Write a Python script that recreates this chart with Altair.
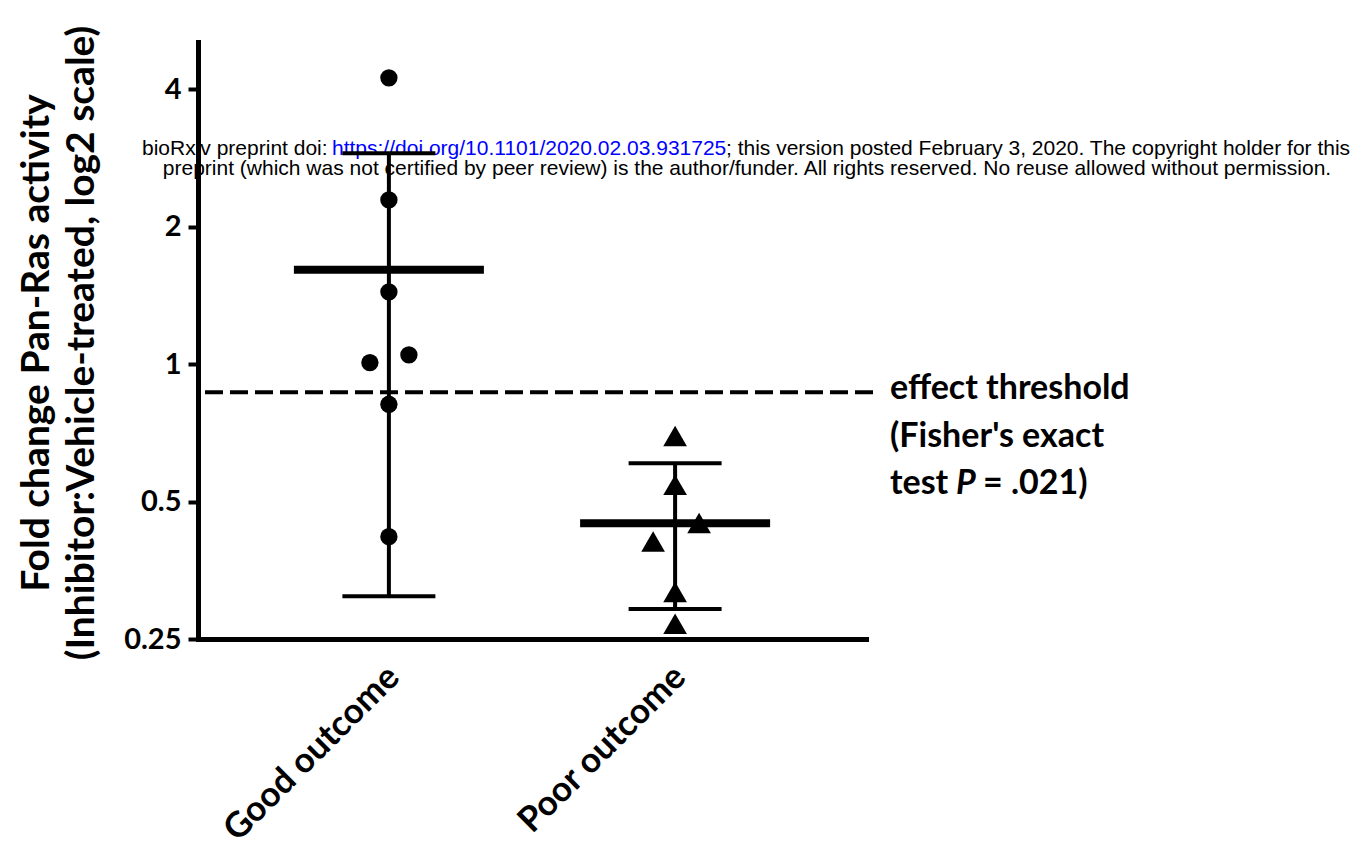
import altair as alt
import pandas as pd

# ---------------- data ----------------
groups = ["Good outcome", "Poor outcome"]
good_values = [4.24, 2.29, 1.44, 1.048, 1.008, 0.817, 0.419]
good_lanes = [0, 0, 0, 1, -1, 0, 0]          # jitter lane of each dot
poor_values = [0.696, 0.544, 0.449, 0.409, 0.317, 0.270]
poor_lanes = [0, 0, 1, -1, 0, 0]
group_means = [1.61, 0.448]
err_upper = [2.90, 0.607]
err_lower = [0.31, 0.291]
threshold = [0.868]
y_ticks = [0.25, 0.5, 1, 2, 4]
y_title = ["Fold change Pan-Ras activity", "(Inhibitor:Vehicle-treated, log2 scale)"]
note_lines = ["effect threshold", "(Fisher's exact", "test", "P", "= .021)"]
wm_left = "bioRxiv preprint doi:"
wm_link = "https://doi.org/10.1101/2020.02.03.931725"
wm_right = "; this version posted February 3, 2020. The copyright holder for this"
wm_line2 = "preprint (which was not certified by peer review) is the author/funder. All rights reserved. No reuse allowed without permission."

points = pd.DataFrame({
    "group": [groups[0]] * len(good_values) + [groups[1]] * len(poor_values),
    "value": good_values + poor_values,
    "lane": good_lanes + poor_lanes,
})
summary = pd.DataFrame({"group": groups, "mean": group_means,
                        "hi": err_upper, "lo": err_lower})
thr_df = pd.DataFrame({"thr": threshold})

# ---------------- style ----------------
W, H = 668, 597
FONT = "Lato"
WM_FONT = "Liberation Sans"

x_axis = alt.Axis(
    title=None, labelAngle=315, labelFont=FONT, labelFontWeight="bold",
    labelFontSize=35, labelColor="black", labelPadding=20, labelOffset=-8,
    ticks=False, tickSize=0, domainWidth=5, domainColor="black",
    domainCap="square", grid=False, labelLimit=600,
)
y_axis = alt.Axis(
    values=y_ticks, labelExpr="'' + datum.value", title=y_title, grid=False,
    domainWidth=5, domainColor="black", domainCap="square",
    tickWidth=4, tickSize=10, tickColor="black",
    labelFont=FONT, labelFontWeight="bold", labelFontSize=29,
    labelColor="black", labelPadding=7, labelOverlap=False,
    titleFont=FONT, titleFontSize=39, titleFontWeight="bold",
    titleColor="black", titleLineHeight=45, titleAngle=270,
    titleBaseline="middle", titleX=-162, titleY=H / 2 + 2, titleLimit=900,
)

x_enc = alt.X("group:N", scale=alt.Scale(type="point", domain=groups, padding=0.667), axis=x_axis)
y_scale = alt.Scale(type="log", base=2, domain=[0.25, 5.08], nice=False)


def ty(field):
    return alt.Y(f"{field}:Q", scale=y_scale, axis=y_axis)


one = alt.Data(values=[{}])


def text_layer(txt, x, y, **kw):
    return alt.Chart(one).mark_text(**kw).encode(
        x=alt.value(x), y=alt.value(y), text=alt.value(txt))


wm_kw = dict(font=WM_FONT, fontSize=21, baseline="alphabetic")
watermark = [
    text_layer(wm_left, -56, 113, align="left", color="black", **wm_kw),
    text_layer(wm_link, 134, 113, align="left", color="#0000ff", **wm_kw),
    text_layer(wm_right, 528, 113, align="left", color="black", **wm_kw),
    text_layer(wm_line2, 549, 133, align="center", color="black", **wm_kw),
]

thr_rule = alt.Chart(thr_df).mark_rule(
    color="black", strokeWidth=4, strokeDash=[18, 7]
).encode(y=ty("thr"), x=alt.value(7), x2=alt.value(675))

err_rule = alt.Chart(summary).mark_rule(color="black", strokeWidth=4).encode(
    x=x_enc, y=ty("lo"), y2="hi:Q")
cap_hi = alt.Chart(summary).mark_tick(
    color="black", orient="horizontal", size=93, thickness=4, opacity=1
).encode(x=x_enc, y=ty("hi"))
cap_lo = alt.Chart(summary).mark_tick(
    color="black", orient="horizontal", size=93, thickness=4, opacity=1
).encode(x=x_enc, y=ty("lo"))
mean_bar = alt.Chart(summary).mark_tick(
    color="black", orient="horizontal", size=190, thickness=8, opacity=1
).encode(x=x_enc, y=ty("mean"))

lane_offsets = {
    (groups[0], -1): -19, (groups[0], 1): 20,
    (groups[1], -1): -22, (groups[1], 1): 24,
    (groups[0], 0): 0, (groups[1], 0): 0,
}
shape_enc = alt.Shape("group:N", scale=alt.Scale(domain=groups, range=["circle", "triangle-up"]), legend=None)
size_enc = alt.Size("group:N", scale=alt.Scale(domain=groups, range=[300, 560]), legend=None)

point_layers = []
for (g, lane), off in lane_offsets.items():
    point_layers.append(
        alt.Chart(points).transform_filter(
            (alt.datum.group == g) & (alt.datum.lane == lane)
        ).mark_point(filled=True, color="black", opacity=1, strokeWidth=0, xOffset=off)
        .encode(x=x_enc, y=ty("value"), shape=shape_enc, size=size_enc)
    )

note_kw = dict(font=FONT, fontSize=34, fontWeight="bold", color="black",
               align="left", baseline="alphabetic")
notes = [
    text_layer(note_lines[0], 692, 357, **note_kw),
    text_layer(note_lines[1], 692, 405, **note_kw),
    text_layer(note_lines[2], 692, 452, **note_kw),
    text_layer(note_lines[3], 758, 452, fontStyle="italic", **note_kw),
    text_layer(note_lines[4], 785, 452, **note_kw),
]

chart = alt.layer(
    *watermark, thr_rule, err_rule, cap_hi, cap_lo, mean_bar, *point_layers, *notes
).properties(
    width=W, height=H,
    padding={"left": 198, "top": 42, "right": 503, "bottom": 207},
    autosize=alt.AutoSizeParams(type="none"),
    background="white",
).configure_view(stroke=None)

chart.save("out.html", embed_options={"renderer": "svg", "actions": False})
